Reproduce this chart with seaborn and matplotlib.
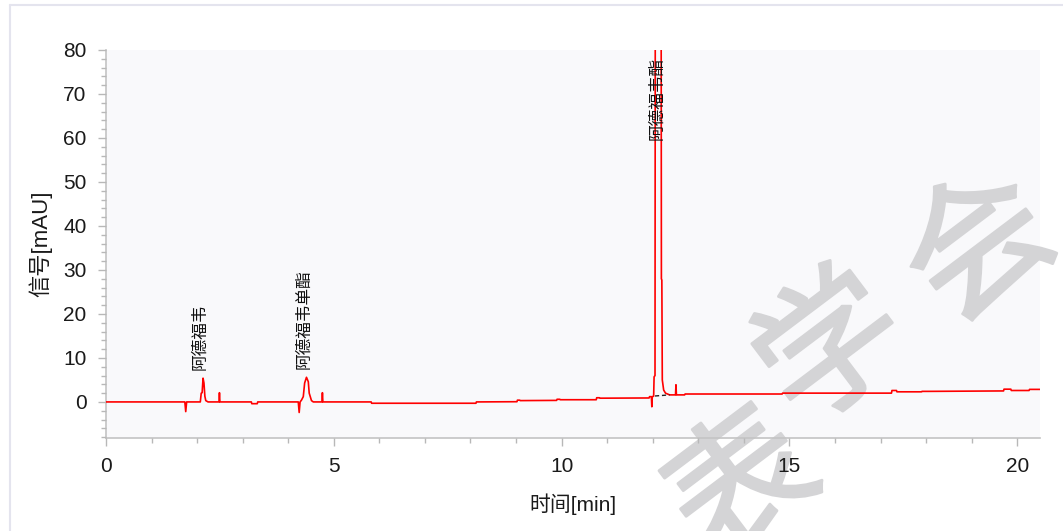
import numpy as np
import pandas as pd
import matplotlib
matplotlib.use("Agg")
import matplotlib.pyplot as plt
import matplotlib.patheffects as pe
from matplotlib.lines import Line2D
from matplotlib.ticker import MultipleLocator
import seaborn as sns

# Chromatogram trace (retention time in min, detector signal in mAU)
time_min = [
    0.00, 1.73, 1.75, 1.77, 2.07, 2.09, 2.11, 2.13, 2.15, 2.17, 2.19, 2.24,
    2.48, 2.49, 2.50, 3.19, 3.20, 3.32, 3.33, 4.22, 4.24, 4.26, 4.29, 4.33,
    4.36, 4.40, 4.44, 4.46, 4.51, 4.55, 4.74, 4.75, 4.76, 5.82, 5.83, 8.12,
    8.13, 9.02, 9.03, 9.08, 9.09, 9.89, 9.90, 9.96, 9.97, 10.76, 10.77, 10.83,
    10.84, 11.92, 11.93, 11.97, 11.98, 11.99, 12.02, 12.03, 12.05, 12.06, 12.12,
    12.18, 12.19, 12.20, 12.21, 12.24, 12.28, 12.37, 12.50, 12.51, 12.52, 12.70,
    12.71, 14.84, 14.85, 17.24, 17.25, 17.35, 17.36, 17.90, 17.91, 18.05, 19.70,
    19.71, 19.86, 19.87, 20.26, 20.27, 20.50,
]
signal_mau = [
    0.0, 0.0, -2.2, 0.0, 0.0, 2.0, 2.1, 5.4, 4.3, 1.3, 0.3, 0.0,
    0.0, 2.1, 0.0, 0.0, -0.4, -0.4, 0.0, 0.0, -2.4, 0.0, 0.4, 1.2,
    4.3, 5.6, 4.6, 2.0, 0.3, 0.0, 0.0, 2.1, 0.0, 0.0, -0.3, -0.3,
    0.0, 0.05, 0.4, 0.4, 0.3, 0.35, 0.6, 0.6, 0.5, 0.5, 0.95, 0.95,
    0.85, 0.9, 1.2, 1.2, -1.1, 1.2, 1.3, 5.7, 6.0, 150.0, 185.0,
    150.0, 28.0, 27.7, 5.0, 2.7, 2.0, 1.6, 1.6, 3.9, 1.6, 1.6,
    1.8, 1.8, 2.0, 2.0, 2.6, 2.6, 2.3, 2.3, 2.4, 2.4, 2.5,
    2.9, 2.9, 2.6, 2.6, 2.85, 2.85,
]

# Integrated peaks
peak_names = ["阿德福韦", "阿德福韦单酯", "阿德福韦酯"]
peak_times = [2.13, 4.40, 12.12]
peak_heights = [5.4, 5.6, 185.0]

# Integration baseline under the main peak
base_time = [12.05, 12.37]
base_signal = [1.35, 1.6]

# Axis settings
x_range = (0, 20.5)
y_range = (-8.2, 80)

sns.set_theme(style="white")
plt.rcParams["font.family"] = ["Liberation Sans", "Noto Sans CJK SC", "DejaVu Sans"]

W, H = 1063, 531
fig = plt.figure(figsize=(W / 100, H / 100), dpi=100, facecolor="white")
ax = fig.add_axes([106 / W, 1 - 438 / H, (1040 - 106) / W, (438 - 50) / H])
ax.set_facecolor("#f9f9fb")
ax.set_axisbelow(False)

trace = pd.DataFrame({"t": time_min, "s": signal_mau})
sns.lineplot(data=trace, x="t", y="s", ax=ax, color="#ff0000", linewidth=1.2,
             estimator=None, sort=False, zorder=3)
sns.lineplot(x=base_time, y=base_signal, ax=ax, color="#222222", linewidth=1.0,
             linestyle=(0, (3, 2)), estimator=None, zorder=4)

ax.set_xlim(*x_range)
ax.set_ylim(*y_range)
ax.xaxis.set_major_locator(MultipleLocator(5))
ax.xaxis.set_minor_locator(MultipleLocator(1))
ax.yaxis.set_major_locator(MultipleLocator(10))
ax.yaxis.set_minor_locator(MultipleLocator(2))
ax.tick_params(axis="both", which="major", direction="out", length=6, width=1,
               color="#b8b8b8", labelsize=15, labelcolor="#1a1a1a", pad=8)
ax.tick_params(axis="both", which="minor", direction="out", length=3.5, width=1,
               color="#b8b8b8")
ax.tick_params(axis="x", which="both", bottom=True)
ax.tick_params(axis="y", which="both", left=True)

for side in ("top", "right"):
    ax.spines[side].set_visible(False)
for side in ("left", "bottom"):
    ax.spines[side].set_color("#c4c4c4")
    ax.spines[side].set_linewidth(1.2)

ax.set_xlabel("时间[min]", fontsize=15, color="#1a1a1a", labelpad=12)
ax.set_ylabel("信号[mAU]", fontsize=16, color="#1a1a1a", labelpad=8)

# Peak name labels, rotated above each apex (clipped peaks get a fixed height)
y_top = y_range[1]
for name, t, h in zip(peak_names, peak_times, peak_heights):
    if h < y_top:
        anchor, dy, dx = h, 6, -2.2
    else:
        anchor, dy, dx = 0.745 * y_top, 0, -1.0
    ax.annotate(name, xy=(t, anchor), xytext=(dx, dy), textcoords="offset points",
                rotation=90, ha="center", va="bottom", fontsize=12,
                color="#111111", family=["Noto Sans CJK SC"], zorder=5)

# Outer panel border
fig.add_artist(Line2D([9.5 / W, 9.5 / W], [0, 1 - 5 / H], transform=fig.transFigure,
                      color="#e4e4ee", linewidth=1.5))
fig.add_artist(Line2D([9.5 / W, 1], [1 - 5 / H, 1 - 5 / H], transform=fig.transFigure,
                      color="#e4e4ee", linewidth=1.5))

# Diagonal watermark, one glyph at a time, drawn beneath the trace and axis
wm_chars = ["表", "学", "会"]
wm_centers = [(745, 490), (834, 352), (982, 251)]
wm_angle = 37
wm_color = "#d4d4d6"
for ch, (px, py) in zip(wm_chars, wm_centers):
    ax.text(px / W, 1 - py / H, ch, transform=fig.transFigure, clip_on=False,
            rotation=wm_angle, rotation_mode="anchor", ha="center", va="center",
            fontsize=104, color=wm_color, family=["Noto Sans CJK SC"], zorder=2,
            path_effects=[pe.withStroke(linewidth=2.0, foreground=wm_color)])

fig.savefig("out.png", dpi=100, facecolor="white")
